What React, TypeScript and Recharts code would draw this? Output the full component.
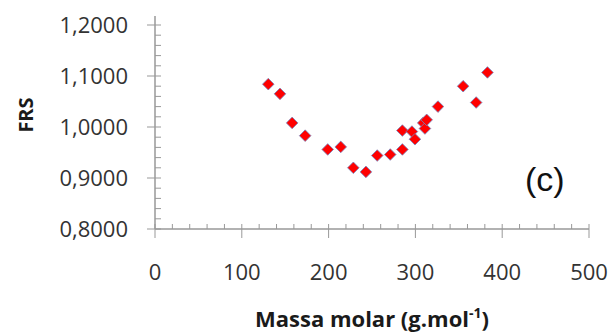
import { ScatterChart, Scatter, XAxis, YAxis } from "recharts";

// massa molar (g/mol) and FRS
const massa = [
  130.5, 144, 158, 173, 199, 214, 228.5, 243, 256, 271, 285, 285, 296, 299.5,
  309, 311, 313, 326, 355, 370, 383,
];
const frs = [
  1.084, 1.065, 1.008, 0.983, 0.956, 0.961, 0.92, 0.912, 0.944, 0.946, 0.956,
  0.993, 0.991, 0.976, 1.008, 0.997, 1.014, 1.04, 1.08, 1.048, 1.107,
];

const xTicks = Array.from({ length: 26 }, (_, i) => i * 20);
const yTicks = Array.from({ length: 21 }, (_, i) => Math.round((0.8 + i * 0.02) * 100) / 100);

const data = massa.map((m, i) => ({ x: m, y: frs[i] }));

const AXIS = "#999999";
const FONT = "'Open Sans', sans-serif";

function XTick(props: any) {
  const { x, y, payload } = props;
  const v = payload.value;
  const major = Math.abs(v % 100) < 1e-6;
  return (
    <g>
      <path d={`M${x},${y - 5}V${major ? y + 9 : y}`} stroke={AXIS} strokeWidth={1} fill="none" />
      {major && (
        <text x={x} y={y + 51} textAnchor="middle" fill="#333" fontSize={22} fontFamily={FONT}>
          {v}
        </text>
      )}
    </g>
  );
}

function YTick(props: any) {
  const { x, y, payload } = props;
  const v = payload.value;
  const major = Math.abs(Math.round(v * 100) % 10) === 0;
  const top = v >= 1.2 - 1e-9;
  return (
    <g>
      <path d={`M${major ? x - 8 : x},${y}H${x + 6}`} stroke={AXIS} strokeWidth={1} fill="none" />
      {/* excel lets the axis run a bit past the last tick */}
      {top && <path d={`M${x},${y - 9}V${y}`} stroke={AXIS} strokeWidth={1.5} fill="none" />}
      {major && (
        <text x={x - 27} y={y} dy="0.36em" textAnchor="end" fill="#333" fontSize={22} fontFamily={FONT}>
          {v.toFixed(4).replace(".", ",")}
        </text>
      )}
    </g>
  );
}

function XTitle(props: any) {
  const vb = props.viewBox;
  return (
    <text
      x={vb.x + vb.width / 2}
      y={vb.y + 98}
      textAnchor="middle"
      fill="#1a1a1a"
      fontSize={22}
      fontWeight="bold"
      fontFamily={FONT}
    >
      Massa molar (g.mol
      <tspan fontSize={14} dy={-9}>-1</tspan>
      <tspan dy={9}>)</tspan>
    </text>
  );
}

function YTitle() {
  const cx = 25;
  const cy = 115;
  return (
    <text
      x={cx}
      y={cy}
      transform={`rotate(-90 ${cx} ${cy})`}
      textAnchor="middle"
      dominantBaseline="central"
      fill="#1a1a1a"
      fontSize={20}
      fontWeight="bold"
      fontFamily={FONT}
    >
      FRS
    </text>
  );
}

function Diamond(props: any) {
  const { cx, cy } = props;
  const r = 5.8;
  return (
    <polygon
      points={`${cx},${cy - r} ${cx + r},${cy} ${cx},${cy + r} ${cx - r},${cy}`}
      fill="#ff0000"
      stroke="#7486c0"
      strokeWidth={0.8}
    />
  );
}

export default function App() {
  return (
    <div style={{ position: "absolute", left: 0, top: 0, width: 613, height: 333, background: "#fff" }}>
      <ScatterChart width={613} height={333} margin={{ top: 25, right: 24, bottom: 0, left: 0 }}>
        <XAxis
          type="number"
          dataKey="x"
          domain={[0, 500]}
          ticks={xTicks}
          interval={0}
          height={104}
          tickSize={0}
          tickMargin={0}
          tick={<XTick />}
          axisLine={{ stroke: AXIS, strokeWidth: 1.5 }}
          label={<XTitle />}
        />
        <YAxis
          type="number"
          dataKey="y"
          domain={[0.8, 1.2]}
          ticks={yTicks}
          interval={0}
          width={155}
          tickSize={0}
          tickMargin={0}
          tick={<YTick />}
          axisLine={{ stroke: AXIS, strokeWidth: 1.5 }}
          label={<YTitle />}
        />
        <Scatter data={data} shape={<Diamond />} isAnimationActive={false} />
      </ScatterChart>
      <div
        style={{
          position: "absolute",
          left: 525,
          top: 162,
          fontFamily: "'Liberation Sans', Arial, sans-serif",
          fontSize: 34,
          lineHeight: 1,
          color: "#111",
        }}
      >
        (c)
      </div>
    </div>
  );
}
